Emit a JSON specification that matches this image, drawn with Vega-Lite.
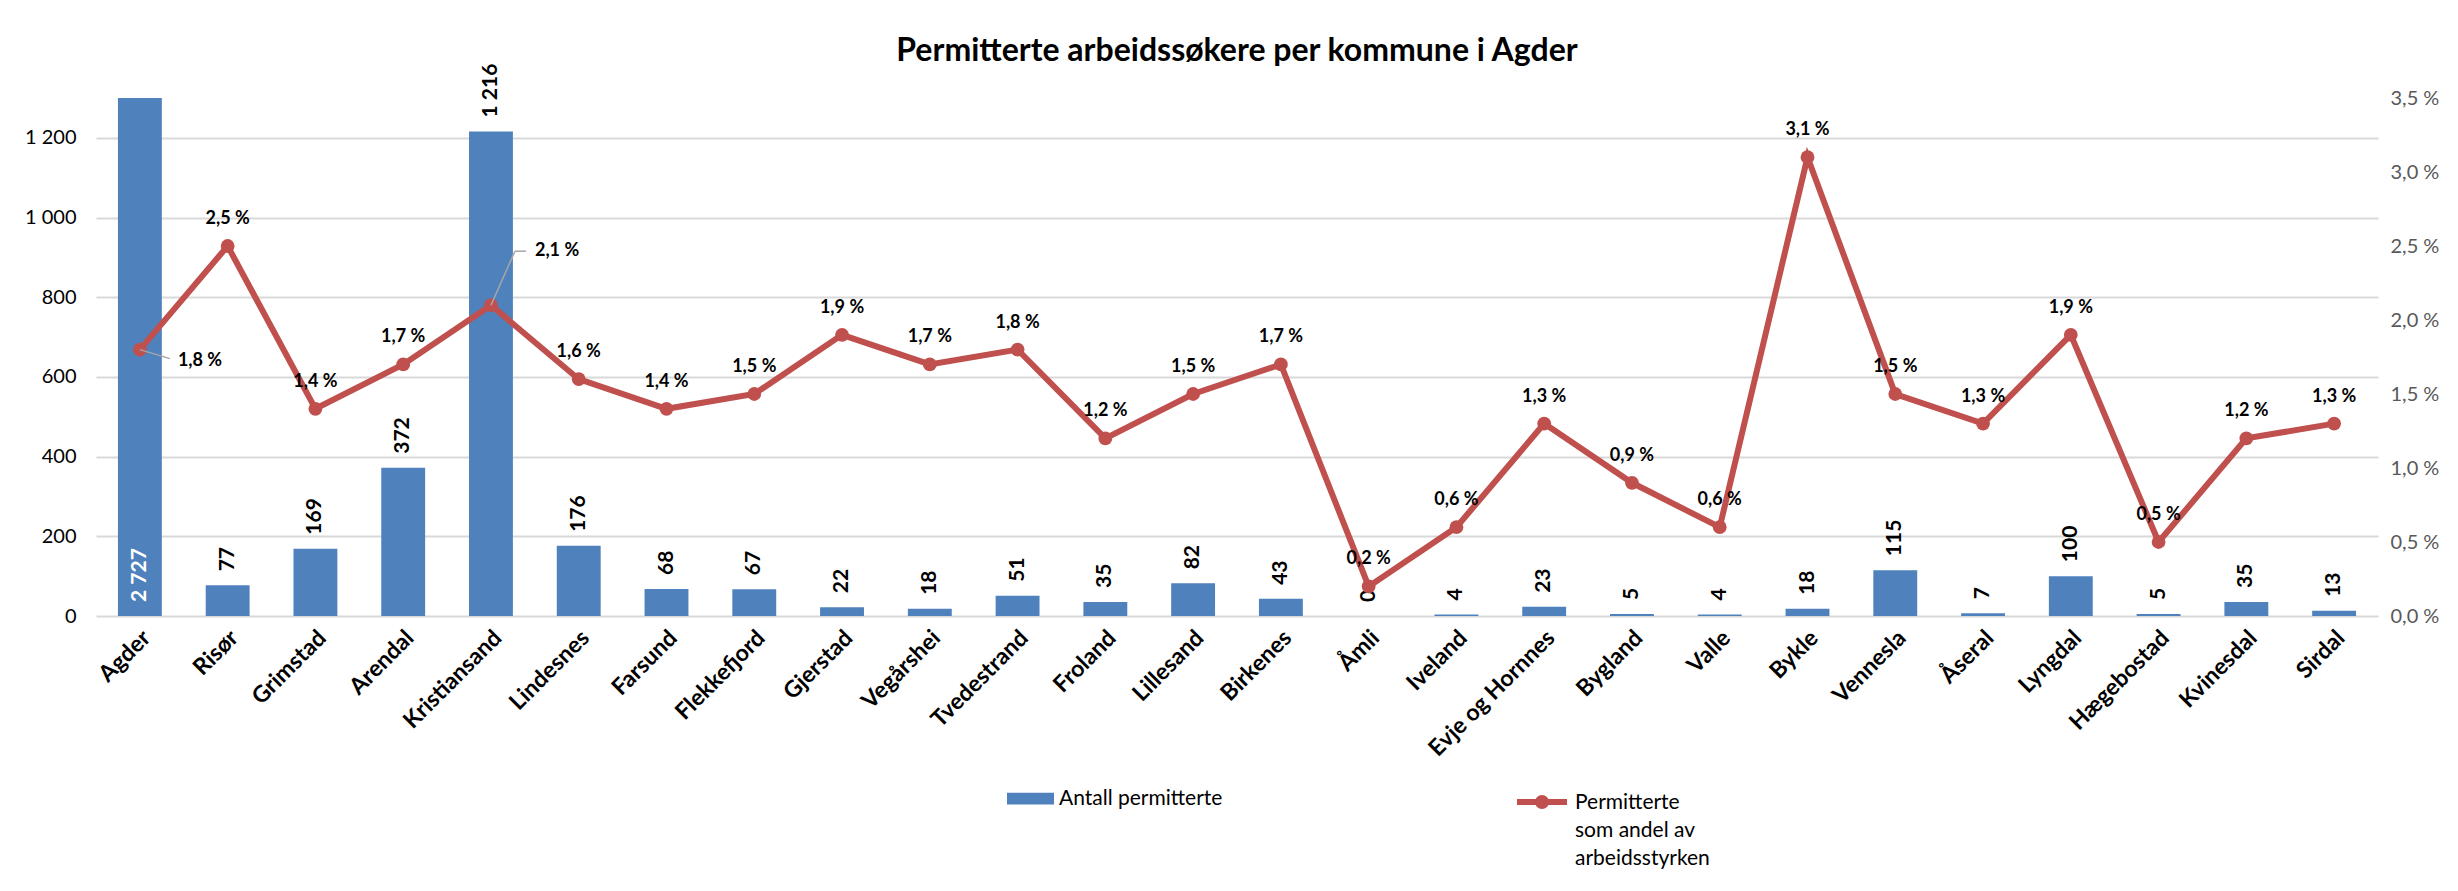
{
  "$schema": "https://vega.github.io/schema/vega-lite/v6.json",
  "width": 2282,
  "height": 518,
  "autosize": {"type": "none"},
  "padding": {"left": 96, "top": 98, "right": 80, "bottom": 275},
  "background": "white",
  "config": {
    "font": "Lato",
    "locale": {"number": {"decimal": ",", "thousands": " ", "grouping": [3], "currency": ["", " kr"], "percent": " %"}},
    "view": {"stroke": null},
    "legend": {"padding": 0}
  },
  "title": {
    "text": "Permitterte arbeidssøkere per kommune i Agder",
    "font": "Lato",
    "fontSize": 32,
    "fontWeight": "bold",
    "color": "#000000",
    "anchor": "middle",
    "offset": -4
  },
  "data": {
    "values": [
      {"kommune": "Agder", "antall": 2727, "andel": 0.018},
      {"kommune": "Risør", "antall": 77, "andel": 0.025},
      {"kommune": "Grimstad", "antall": 169, "andel": 0.014},
      {"kommune": "Arendal", "antall": 372, "andel": 0.017},
      {"kommune": "Kristiansand", "antall": 1216, "andel": 0.021},
      {"kommune": "Lindesnes", "antall": 176, "andel": 0.016},
      {"kommune": "Farsund", "antall": 68, "andel": 0.014},
      {"kommune": "Flekkefjord", "antall": 67, "andel": 0.015},
      {"kommune": "Gjerstad", "antall": 22, "andel": 0.019},
      {"kommune": "Vegårshei", "antall": 18, "andel": 0.017},
      {"kommune": "Tvedestrand", "antall": 51, "andel": 0.018},
      {"kommune": "Froland", "antall": 35, "andel": 0.012},
      {"kommune": "Lillesand", "antall": 82, "andel": 0.015},
      {"kommune": "Birkenes", "antall": 43, "andel": 0.017},
      {"kommune": "Åmli", "antall": 0, "andel": 0.002},
      {"kommune": "Iveland", "antall": 4, "andel": 0.006},
      {"kommune": "Evje og Hornnes", "antall": 23, "andel": 0.013},
      {"kommune": "Bygland", "antall": 5, "andel": 0.009},
      {"kommune": "Valle", "antall": 4, "andel": 0.006},
      {"kommune": "Bykle", "antall": 18, "andel": 0.031},
      {"kommune": "Vennesla", "antall": 115, "andel": 0.015},
      {"kommune": "Åseral", "antall": 7, "andel": 0.013},
      {"kommune": "Lyngdal", "antall": 100, "andel": 0.019},
      {"kommune": "Hægebostad", "antall": 5, "andel": 0.005},
      {"kommune": "Kvinesdal", "antall": 35, "andel": 0.012},
      {"kommune": "Sirdal", "antall": 13, "andel": 0.013}
    ]
  },
  "encoding": {
    "x": {
      "field": "kommune",
      "type": "nominal",
      "sort": null,
      "scale": {"paddingInner": 0.5, "paddingOuter": 0.25},
      "axis": {
        "title": null,
        "labelAngle": -45,
        "labelAlign": "right",
        "labelBaseline": "middle",
        "labelFont": "Lato",
        "labelFontSize": 23,
        "labelFontWeight": "bold",
        "labelColor": "#000000",
        "labelPadding": 18,
        "labelOffset": 7,
        "ticks": false,
        "domain": false,
        "grid": false
      }
    }
  },
  "layer": [
    {
      "encoding": {
        "y": {
          "field": "antall",
          "type": "quantitative",
          "scale": {"domain": [0, 1300], "nice": false, "zero": true},
          "axis": {
            "title": null,
            "orient": "left",
            "values": [0, 200, 400, 600, 800, 1000, 1200],
            "format": ",d",
            "labelFont": "Lato",
            "labelFontSize": 20,
            "labelColor": "#000000",
            "labelPadding": 20,
            "ticks": false,
            "domain": false,
            "grid": true,
            "gridColor": "#D9D9D9",
            "gridWidth": 2
          }
        }
      },
      "layer": [
        {
          "mark": {"type": "bar", "clip": true, "color": "#4F81BD"},
          "encoding": {
            "fill": {
              "datum": "Antall permitterte",
              "type": "nominal",
              "scale": {"range": ["#4F81BD"]},
              "legend": {
                "orient": "none",
                "legendX": 911,
                "legendY": 677,
                "title": null,
                "symbolType": "M-1,-0.25H1V0.25H-1Z",
                "symbolSize": 2209,
                "symbolStrokeWidth": 0,
                "labelFont": "Lato",
                "labelFontSize": 21,
                "labelColor": "#000000",
                "labelOffset": 5,
                "labelLimit": 400
              }
            }
          }
        },
        {
          "transform": [{"filter": "datum.kommune !== 'Agder'"}],
          "mark": {"type": "text", "angle": 270, "align": "left", "baseline": "middle", "dx": 14, "font": "Lato", "fontSize": 21, "fontWeight": "bold", "color": "#000000"},
          "encoding": {
            "text": {"field": "antall", "type": "quantitative", "format": ",d"}
          }
        },
        {
          "transform": [{"filter": "datum.kommune === 'Agder'"}],
          "mark": {"type": "text", "angle": 270, "align": "left", "baseline": "middle", "dx": 14, "font": "Lato", "fontSize": 21, "fontWeight": "bold", "color": "#FFFFFF"},
          "encoding": {
            "y": {"datum": 0, "type": "quantitative"},
            "text": {"field": "antall", "type": "quantitative", "format": ",d"}
          }
        }
      ]
    },
    {
      "encoding": {
        "y": {
          "field": "andel",
          "type": "quantitative",
          "scale": {"domain": [0, 0.035], "nice": false, "zero": true},
          "axis": {
            "title": null,
            "orient": "right",
            "values": [0, 0.005, 0.01, 0.015, 0.02, 0.025, 0.03, 0.035],
            "format": ".1%",
            "labelFont": "Lato",
            "labelFontSize": 20,
            "labelColor": "#595959",
            "labelPadding": 12,
            "ticks": false,
            "domain": false,
            "grid": false
          }
        }
      },
      "layer": [
        {
          "mark": {"type": "line", "strokeWidth": 6, "color": "#C0504D"},
          "encoding": {
            "stroke": {
              "datum": "Permitterte|som andel av|arbeidsstyrken",
              "type": "nominal",
              "scale": {"range": ["#C0504D"]},
              "legend": {
                "orient": "none",
                "legendX": 1418,
                "legendY": 676,
                "title": null,
                "symbolType": "M-1,0H1M-0.16,0A0.16,0.16 0 1,0 0.16,0A0.16,0.16 0 1,0 -0.16,0Z",
                "symbolSize": 2500,
                "symbolStrokeWidth": 6,
                "symbolFillColor": "#C0504D",
                "labelExpr": "split(datum.label, '|')",
                "labelFont": "Lato",
                "labelFontSize": 21,
                "labelColor": "#000000",
                "labelOffset": 5,
                "labelBaseline": "alphabetic",
                "labelLimit": 400,
                "encode": {
                  "labels": {"update": {"lineHeight": {"value": 28}, "dy": {"value": 7}}},
                  "symbols": {"update": {"fill": {"value": "#C0504D"}, "stroke": {"value": "#C0504D"}}}
                }
              }
            }
          }
        },
        {
          "mark": {"type": "point", "filled": true, "opacity": 1, "size": 190, "color": "#C0504D", "shape": "circle"}
        },
        {
          "transform": [{"filter": "datum.kommune === 'Agder'"}],
          "mark": {"type": "rule", "color": "#A6A6A6", "strokeWidth": 1.5, "x2Offset": 30, "y2Offset": 9},
          "encoding": {
            "x2": {"field": "kommune"},
            "y2": {"field": "andel"}
          }
        },
        {
          "transform": [{"filter": "datum.kommune === 'Kristiansand'"}],
          "mark": {"type": "rule", "color": "#A6A6A6", "strokeWidth": 1.5, "x2Offset": 24, "y2Offset": -54},
          "encoding": {
            "x2": {"field": "kommune"},
            "y2": {"field": "andel"}
          }
        },
        {
          "transform": [{"filter": "datum.kommune === 'Kristiansand'"}],
          "mark": {"type": "rule", "color": "#A6A6A6", "strokeWidth": 1.5, "xOffset": 24, "yOffset": -54, "x2Offset": 35, "y2Offset": -54},
          "encoding": {
            "x2": {"field": "kommune"},
            "y2": {"field": "andel"}
          }
        },
        {
          "transform": [{"filter": "datum.kommune !== 'Agder' && datum.kommune !== 'Kristiansand'"}],
          "mark": {"type": "text", "align": "center", "baseline": "alphabetic", "dy": -22, "font": "Lato", "fontSize": 18, "fontWeight": "bold", "color": "#000000"},
          "encoding": {
            "text": {"field": "andel", "type": "quantitative", "format": ".1%"}
          }
        },
        {
          "transform": [{"filter": "datum.kommune === 'Agder'"}],
          "mark": {"type": "text", "align": "left", "baseline": "middle", "dx": 38, "dy": 11, "font": "Lato", "fontSize": 18, "fontWeight": "bold", "color": "#000000"},
          "encoding": {
            "text": {"field": "andel", "type": "quantitative", "format": ".1%"}
          }
        },
        {
          "transform": [{"filter": "datum.kommune === 'Kristiansand'"}],
          "mark": {"type": "text", "align": "left", "baseline": "middle", "dx": 44, "dy": -54, "font": "Lato", "fontSize": 18, "fontWeight": "bold", "color": "#000000"},
          "encoding": {
            "text": {"field": "andel", "type": "quantitative", "format": ".1%"}
          }
        }
      ]
    }
  ],
  "resolve": {"scale": {"y": "independent"}}
}
